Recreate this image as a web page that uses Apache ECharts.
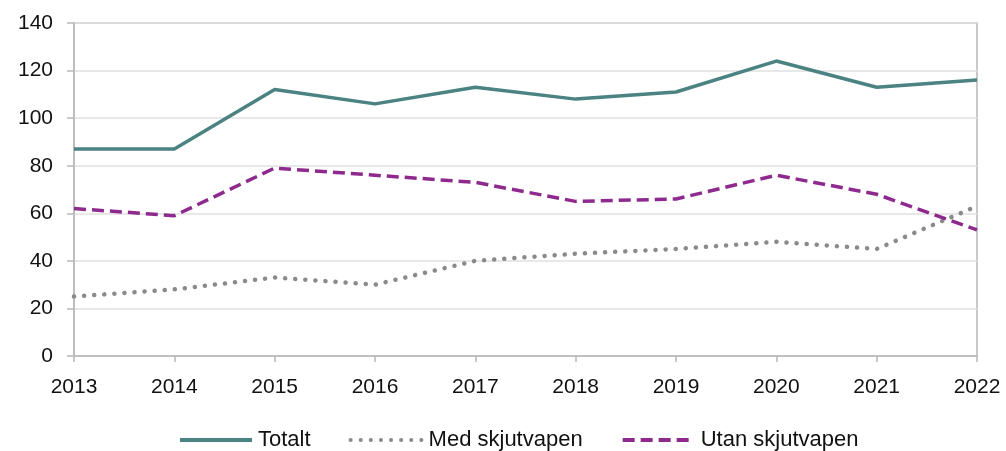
<!DOCTYPE html>
<html>
<head>
<meta charset="utf-8">
<script src="https://cdn.jsdelivr.net/npm/echarts@6/dist/echarts.min.js"></script>
<style>
  html, body { margin: 0; padding: 0; background: #fff; }
  #chart { width: 1006px; height: 451px; }
</style>
</head>
<body>
<div id="chart"></div>
<script>
  var years = ['2013', '2014', '2015', '2016', '2017', '2018', '2019', '2020', '2021', '2022']
  var totalt = [87, 87, 112, 106, 113, 108, 111, 124, 113, 116]
  var medSkjutvapen = [25, 28, 33, 30, 40, 43, 45, 48, 45, 63]
  var utanSkjutvapen = [62, 59, 79, 76, 73, 65, 66, 76, 68, 53]

  var font = 'Liberation Sans, Arial, sans-serif'
  var chart = echarts.init(document.getElementById('chart'))

  chart.setOption({
    animation: false,
    grid: {
      left: 74, right: 29, top: 23, bottom: 95,
      show: true,
      borderColor: '#b8b8b8',
      borderWidth: 1.5
    },
    legend: {
      top: 424,
      left: 173,
      itemWidth: 72,
      itemHeight: 16,
      itemGap: 38,
      itemStyle: { opacity: 0 },
      lineStyle: { width: 4 },
      textStyle: { fontFamily: font, fontSize: 22, color: '#111', padding: [0, 0, 0, 1] },
      data: ['Totalt', 'Med skjutvapen', 'Utan skjutvapen']
    },
    xAxis: {
      type: 'category',
      boundaryGap: false,
      data: years,
      axisLine: { lineStyle: { color: '#b8b8b8', width: 1.5 } },
      axisTick: { show: true, length: 6, lineStyle: { color: '#b8b8b8', width: 1.5 } },
      axisLabel: { fontFamily: font, fontSize: 21, color: '#111', margin: 21 },
      splitLine: { show: false }
    },
    yAxis: {
      type: 'value',
      min: 0,
      max: 140,
      interval: 20,
      axisLine: { show: true, lineStyle: { color: '#b8b8b8', width: 1.5 } },
      axisTick: { show: true, length: 7, lineStyle: { color: '#b8b8b8', width: 1.5 } },
      axisLabel: { fontFamily: font, fontSize: 21, color: '#111', margin: 21 },
      splitLine: { lineStyle: { color: '#e0e0e0', width: 1.5 } }
    },
    series: [
      {
        name: 'Totalt',
        type: 'line',
        data: totalt,
        symbol: 'none',
        color: '#4b8282',
        lineStyle: { width: 3.5, color: '#4b8282' }
      },
      {
        name: 'Med skjutvapen',
        type: 'line',
        data: medSkjutvapen,
        symbol: 'none',
        color: '#8a8a8a',
        lineStyle: { width: 4.5, color: '#8a8a8a', type: [0.1, 10], cap: 'round' }
      },
      {
        name: 'Utan skjutvapen',
        type: 'line',
        data: utanSkjutvapen,
        symbol: 'none',
        color: '#8e2a8e',
        lineStyle: { width: 3.5, color: '#8e2a8e', type: [12, 6] }
      }
    ]
  })
</script>
</body>
</html>
